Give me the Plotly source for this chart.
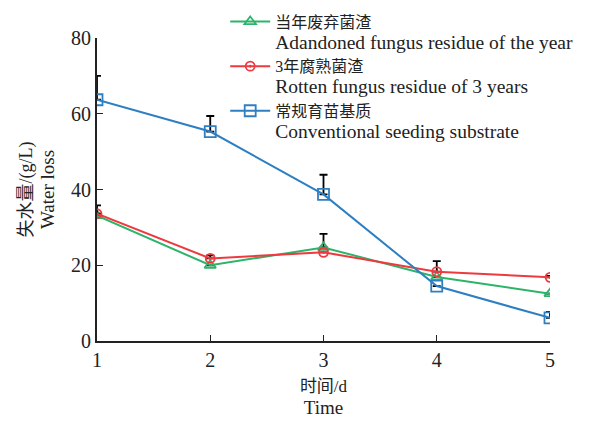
import plotly.graph_objects as go

days = [1, 2, 3, 4, 5]
names_cn = ["当年废弃菌渣", "3年腐熟菌渣", "常规育苗基质"]
names_en = ["Adandoned fungus residue of the year",
            "Rotten fungus residue of 3 years",
            "Conventional seeding substrate"]
green_vals = [33.1, 20.0, 24.7, 16.9, 12.5]
red_vals = [33.6, 21.8, 23.4, 18.3, 16.8]
blue_vals = [63.7, 55.3, 38.7, 14.5, 6.1]
green_err = [0, 0, 3.6, 0, 0]
red_err = [2.2, 0.8, 0, 2.8, 0.4]
blue_err = [6.3, 4.1, 5.2, 0, 1.6]

colors = ["#2db36a", "#ee3a3f", "#2e7fc2"]
symbols = ["triangle-up-open", "circle-open-dot", "square-open"]
sizes = [10, 9, 11]

serif = "Liberation Serif, Noto Sans CJK SC, serif"

fig = go.Figure()
for cn, en, vals, err, c, s, sz in zip(names_cn, names_en, [green_vals, red_vals, blue_vals],
                                       [green_err, red_err, blue_err], colors, symbols, sizes):
    label = (f"<span style='font-size:16px'>{cn}</span><br>"
             f"<span style='font-size:19.5px'>{en}</span>")
    fig.add_trace(go.Scatter(
        x=days, y=vals, name=label, mode="lines+markers",
        line=dict(color=c, width=2),
        marker=dict(symbol=s, size=sz, color=c, line=dict(width=1.8, color=c)),
        error_y=dict(type="data", array=err, arrayminus=[0]*5, symmetric=False,
                     color="black", thickness=1.8, width=4),
    ))

fig.update_layout(
    width=589, height=421,
    margin=dict(l=97, r=39, t=38, b=80, autoexpand=False),
    paper_bgcolor="white", plot_bgcolor="white",
    font=dict(family=serif, color="#222", size=18),
    legend=dict(x=0.283, y=1.11, xanchor="left", yanchor="top",
                bgcolor="rgba(0,0,0,0)", font=dict(size=16, family=serif),
                valign="top", tracegroupgap=0, itemwidth=40),
    xaxis=dict(range=[1, 5], tickvals=days, ticks="inside", ticklen=6,
               tickcolor="#222", showline=True, linecolor="#222", linewidth=2,
               showgrid=False, zeroline=False,
               tickfont=dict(size=20),
               title=dict(text="<span style='font-size:17px'>时间/d</span><br>"
                               "<span style='font-size:19px'>Time</span>",
                          font=dict(size=17), standoff=10)),
    yaxis=dict(range=[0, 80], tickvals=[0, 20, 40, 60, 80], ticks="inside",
               ticklen=6, tickcolor="#222", showline=True, linecolor="#222",
               linewidth=2, showgrid=False, zeroline=False,
               tickfont=dict(size=20),
               title=dict(text="<span style='font-size:18px'>失水量/(g/L)</span><br>"
                               "<span style='font-size:19px'>Water loss</span>",
                          font=dict(size=17), standoff=12)),
)

fig.write_html("out.html")
